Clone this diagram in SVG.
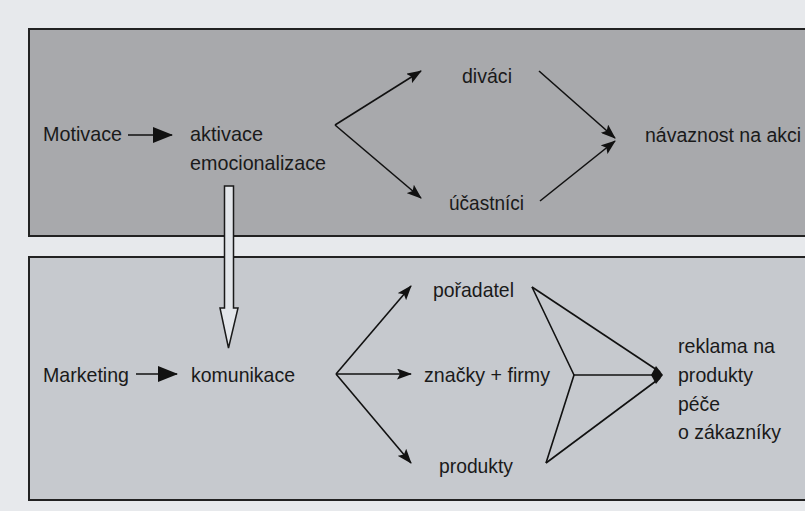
<svg xmlns="http://www.w3.org/2000/svg" width="805" height="511" viewBox="0 0 805 511">
<style>
text{font-family:"Liberation Sans",Arial,sans-serif;font-size:21px;fill:#1a1a1a}
.box{stroke:#222;stroke-width:2}
.ln{stroke:#111;stroke-width:1.6;fill:none}
</style>
<defs>
<marker id="ah" markerWidth="15" markerHeight="11" refX="14" refY="5.5" orient="auto" markerUnits="userSpaceOnUse">
<path d="M0,0 L15,5.5 L0,11 L3,5.5 Z" fill="#111"/>
</marker>
<marker id="ahb" markerWidth="20" markerHeight="16" refX="19" refY="8" orient="auto" markerUnits="userSpaceOnUse">
<path d="M0,0 L20,8 L0,16 Z" fill="#111"/>
</marker>
</defs>
<rect x="0" y="0" width="805" height="511" fill="#e7e9ec"/>
<rect class="box" x="29" y="29" width="790" height="207" fill="#a8a9ac"/>
<rect class="box" x="29" y="257" width="790" height="243" fill="#c6c9ce"/>

<g id="connectors">
<line class="ln" x1="128" y1="135" x2="172" y2="135" marker-end="url(#ahb)"/>
<line class="ln" x1="335" y1="125" x2="421" y2="71" marker-end="url(#ah)"/>
<line class="ln" x1="335" y1="125" x2="421" y2="198" marker-end="url(#ah)"/>
<line class="ln" x1="539" y1="71" x2="615" y2="138" marker-end="url(#ah)"/>
<line class="ln" x1="540" y1="201" x2="615" y2="141" marker-end="url(#ah)"/>
<polygon points="224.5,186 233.5,186 233.5,308 238,308 228.5,348 220,308 224.5,308" fill="#e3e6ea" stroke="#1a1a1a" stroke-width="1.5"/>
<line class="ln" x1="136" y1="374" x2="177" y2="374" marker-end="url(#ahb)"/>
<line class="ln" x1="336" y1="374" x2="411" y2="286" marker-end="url(#ah)"/>
<line class="ln" x1="336" y1="374" x2="411" y2="374" marker-end="url(#ah)"/>
<line class="ln" x1="336" y1="374" x2="411" y2="463" marker-end="url(#ah)"/>
<polyline class="ln" points="532,287 574,375 546,463"/>
<line class="ln" x1="532" y1="287" x2="660" y2="372"/>
<line class="ln" x1="546" y1="463" x2="660" y2="378"/>
<line class="ln" x1="574" y1="375" x2="660" y2="375"/>
<path d="M651,375 L656,366 L663,375 L656,384 Z" fill="#111"/>
</g>

<g id="n-motivace"><text x="43" y="141" textLength="79" lengthAdjust="spacingAndGlyphs">Motivace</text></g>
<g id="n-aktivace"><text x="190" y="141" textLength="73" lengthAdjust="spacingAndGlyphs">aktivace</text><text x="190" y="170" textLength="136" lengthAdjust="spacingAndGlyphs">emocionalizace</text></g>
<g id="n-divaci"><text x="462" y="83" textLength="50" lengthAdjust="spacingAndGlyphs">diváci</text></g>
<g id="n-ucastnici"><text x="449" y="210" textLength="75" lengthAdjust="spacingAndGlyphs">účastníci</text></g>
<g id="n-navaznost"><text x="645" y="142" style="font-size:19.5px">návaznost na akci</text></g>
<g id="n-marketing"><text x="43" y="382" textLength="86" lengthAdjust="spacingAndGlyphs">Marketing</text></g>
<g id="n-komunikace"><text x="191" y="382" textLength="104" lengthAdjust="spacingAndGlyphs">komunikace</text></g>
<g id="n-poradatel"><text x="433" y="297" textLength="81" lengthAdjust="spacingAndGlyphs">pořadatel</text></g>
<g id="n-znacky"><text x="424" y="382" textLength="126" lengthAdjust="spacingAndGlyphs">značky + firmy</text></g>
<g id="n-produkty"><text x="439" y="473" textLength="74" lengthAdjust="spacingAndGlyphs">produkty</text></g>
<g id="n-reklama"><text x="678" y="353" textLength="97" lengthAdjust="spacingAndGlyphs">reklama na</text><text x="678" y="382" textLength="75" lengthAdjust="spacingAndGlyphs">produkty</text><text x="678" y="411" textLength="42" lengthAdjust="spacingAndGlyphs">péče</text><text x="678" y="439" textLength="103" lengthAdjust="spacingAndGlyphs">o zákazníky</text></g>
</svg>
